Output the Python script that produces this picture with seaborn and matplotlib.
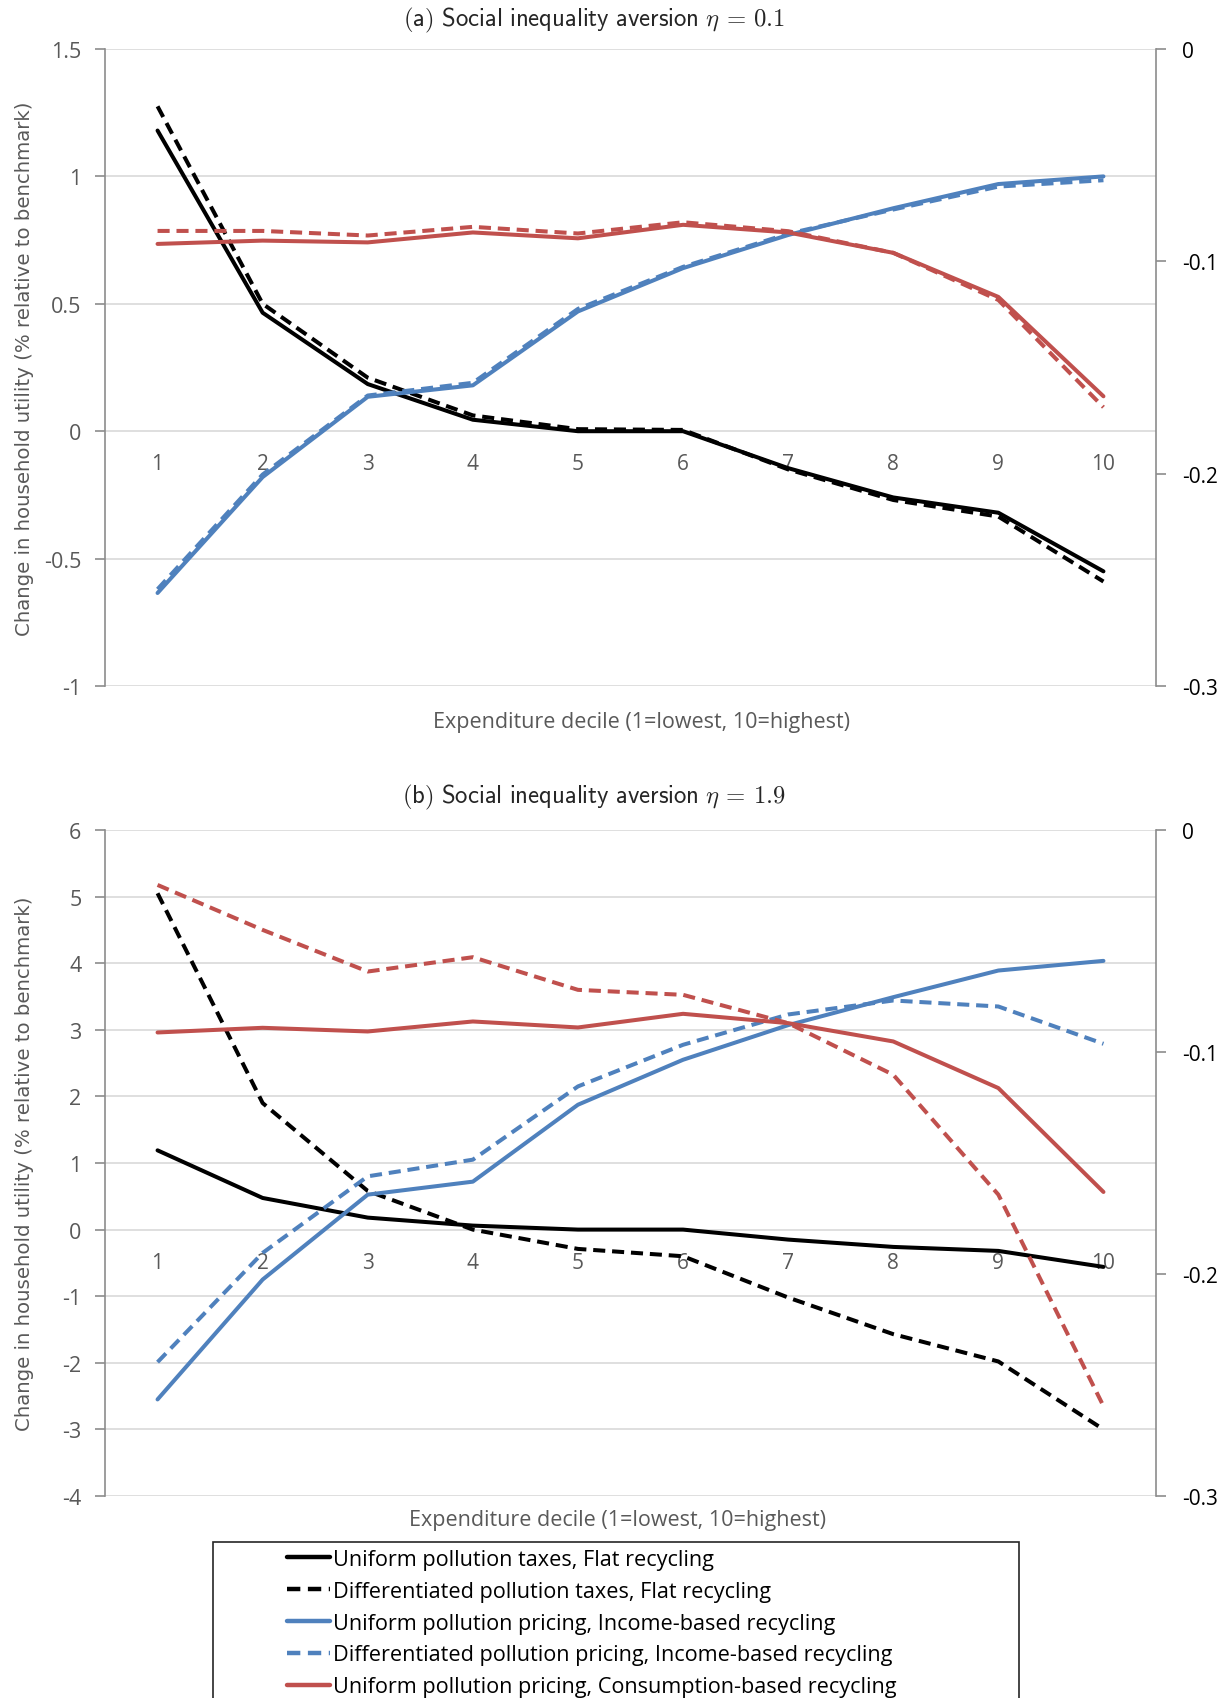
import matplotlib
matplotlib.use("Agg")
import matplotlib.pyplot as plt
import seaborn as sns
import pandas as pd
from matplotlib.lines import Line2D
from matplotlib.patches import Rectangle

# Expenditure deciles
deciles = list(range(1, 11))

# Panel (a): social inequality aversion eta = 0.1
a_uniform_tax_flat = [1.18, 0.465, 0.185, 0.045, 0.0, 0.0, -0.145, -0.26, -0.32, -0.55]
a_diff_tax_flat = [1.275, 0.50, 0.21, 0.062, 0.008, 0.005, -0.15, -0.27, -0.335, -0.59]
a_uniform_price_income = [-0.635, -0.18, 0.135, 0.18, 0.47, 0.64, 0.77, 0.875, 0.97, 1.0]
a_diff_price_income = [-0.62, -0.17, 0.14, 0.19, 0.48, 0.645, 0.775, 0.87, 0.96, 0.985]
a_uniform_price_cons = [0.735, 0.748, 0.741, 0.78, 0.757, 0.81, 0.78, 0.70, 0.527, 0.137]
a_diff_price_cons = [0.786, 0.786, 0.768, 0.802, 0.776, 0.82, 0.785, 0.70, 0.515, 0.094]

# Panel (b): social inequality aversion eta = 1.9
b_uniform_tax_flat = [1.19, 0.475, 0.18, 0.06, 0.0, 0.0, -0.15, -0.26, -0.32, -0.56]
b_diff_tax_flat = [5.05, 1.9, 0.58, 0.0, -0.29, -0.4, -1.02, -1.57, -1.98, -3.0]
b_uniform_price_income = [-2.55, -0.75, 0.525, 0.72, 1.875, 2.55, 3.07, 3.49, 3.89, 4.035]
b_diff_price_income = [-1.99, -0.35, 0.8, 1.05, 2.15, 2.775, 3.23, 3.44, 3.35, 2.79]
b_uniform_price_cons = [2.96, 3.03, 2.975, 3.125, 3.035, 3.24, 3.1, 2.825, 2.125, 0.565]
b_diff_price_cons = [5.175, 4.5, 3.875, 4.09, 3.6, 3.525, 3.1, 2.325, 0.525, -2.65]

series_labels = [
    "Uniform pollution taxes, Flat recycling",
    "Differentiated pollution taxes, Flat recycling",
    "Uniform pollution pricing, Income-based recycling",
    "Differentiated pollution pricing, Income-based recycling",
    "Uniform pollution pricing, Consumption-based recycling",
    "Differentiated pollution pricing, Consumption-based recycling",
]

a_left_ticks = [-1, -0.5, 0, 0.5, 1, 1.5]
a_left_labels = ["-1", "-0.5", "0", "0.5", "1", "1.5"]
b_left_ticks = [-4, -3, -2, -1, 0, 1, 2, 3, 4, 5, 6]
b_left_labels = ["-4", "-3", "-2", "-1", "0", "1", "2", "3", "4", "5", "6"]
right_ticks = [-0.3, -0.2, -0.1, 0]
right_labels = ["-0.3", "-0.2", "-0.1", "0"]

BLACK = "#000000"
BLUE = "#4F81BD"
RED = "#C0504D"
DASH = (0, (3.0, 1.7))
colors = [BLACK, BLACK, BLUE, BLUE, RED, RED]
styles = ["-", DASH, "-", DASH, "-", DASH]

sns.set_theme(style="white")
plt.rcParams["font.family"] = ["Open Sans", "DejaVu Sans"]
plt.rcParams["mathtext.fontset"] = "cm"
plt.rcParams["axes.unicode_minus"] = False

W, H = 1230, 1699
fig = plt.figure(figsize=(W / 100, H / 100), dpi=100)


def px_axes(left, top, right, bottom):
    return fig.add_axes([left / W, 1 - bottom / H, (right - left) / W, (bottom - top) / H])


def draw_panel(ax, data, ylim, yticks, ylabels, xlabel_xy):
    df = pd.DataFrame({"decile": deciles * 6,
                       "value": sum(data, []),
                       "series": sum([[s] * 10 for s in series_labels], [])})
    for lab, col, ls in zip(series_labels, colors, styles):
        sub = df[df["series"] == lab]
        sns.lineplot(data=sub, x="decile", y="value", ax=ax, color=col,
                     linestyle=ls, linewidth=2.9, legend=False, zorder=3)
    ax.set_xlim(0.5, 10.5)
    ax.set_ylim(*ylim)
    ax.set_yticks(yticks)
    ax.set_yticklabels(ylabels)
    ax.yaxis.grid(True, color="#D9D9D9", linewidth=1.2)
    ax.set_axisbelow(True)
    for side in ["top", "right", "bottom"]:
        ax.spines[side].set_visible(False)
    ax.spines["left"].set_color("#8C8C8C")
    ax.spines["left"].set_linewidth(1.2)
    ax.spines["bottom"].set_position(("data", 0))
    ax.set_xticks(deciles)
    ax.set_xticklabels([str(d) for d in deciles])
    ax.tick_params(axis="x", length=0, pad=16, labelsize=15, labelcolor="#595959")
    ax.tick_params(axis="y", left=True, length=7, width=1.2, color="#8C8C8C",
                   pad=10, labelsize=15.5, labelcolor="#595959", direction="out")
    ax.set_xlabel("Expenditure decile (1=lowest, 10=highest)", fontsize=15.5, color="#595959")
    ax.xaxis.set_label_coords(*xlabel_xy)
    ax.xaxis.label.set_va("center")
    ax.set_ylabel("Change in household utility (% relative to benchmark)",
                  fontsize=14.2, color="#595959", family=["DejaVu Sans"])
    ax.yaxis.set_label_coords(-0.068, 0.5)

    ax2 = ax.twinx()
    ax2.set_ylim(-0.3, 0)
    ax2.set_yticks(right_ticks)
    ax2.set_yticklabels(right_labels)
    ax2.grid(False)
    for side in ["top", "left", "bottom"]:
        ax2.spines[side].set_visible(False)
    ax2.spines["right"].set_color("#8C8C8C")
    ax2.spines["right"].set_linewidth(1.2)
    ax2.tick_params(axis="y", right=True, length=7, width=1.2, color="#8C8C8C",
                    pad=12, labelsize=15, labelcolor="#000000", direction="out")


ax_a = px_axes(105, 50, 1156, 687)
draw_panel(ax_a,
           [a_uniform_tax_flat, a_diff_tax_flat, a_uniform_price_income,
            a_diff_price_income, a_uniform_price_cons, a_diff_price_cons],
           (-1, 1.5), a_left_ticks, a_left_labels, (0.51, -0.0565))

ax_b = px_axes(105, 831, 1156, 1497)
draw_panel(ax_b,
           [b_uniform_tax_flat, b_diff_tax_flat, b_uniform_price_income,
            b_diff_price_income, b_uniform_price_cons, b_diff_price_cons],
           (-4, 6), b_left_ticks, b_left_labels, (0.488, -0.036))

fig.text(594 / W, 1 - 20 / H,
         r"$\mathsf{(a)\ Social\ inequality\ aversion}\ \eta\, =\, 0.1$",
         ha="center", va="center", fontsize=17.8, color="#262626")
fig.text(594 / W, 1 - 797 / H,
         r"$\mathsf{(b)\ Social\ inequality\ aversion}\ \eta\, =\, 1.9$",
         ha="center", va="center", fontsize=17.8, color="#262626")

# Legend box running past the lower edge of the page
fig.patches.append(Rectangle((213 / W, -0.02), (1019 - 213) / W, 1 - 1543 / H + 0.02,
                             transform=fig.transFigure, fill=False,
                             edgecolor="#262626", linewidth=1.2))
handles = [Line2D([0], [0], color=c, linestyle=s, linewidth=3.2)
           for c, s in zip(colors[:5], styles[:5])]
fig.legend(handles, series_labels[:5], loc="upper left",
           bbox_to_anchor=(287 / W, 1 - 1550 / H), bbox_transform=fig.transFigure,
           frameon=False, borderpad=0, borderaxespad=0, handlelength=2.0,
           handletextpad=0.12, labelspacing=0.5, fontsize=15.6, labelcolor="#000000")

fig.savefig("out.png", dpi=100)
